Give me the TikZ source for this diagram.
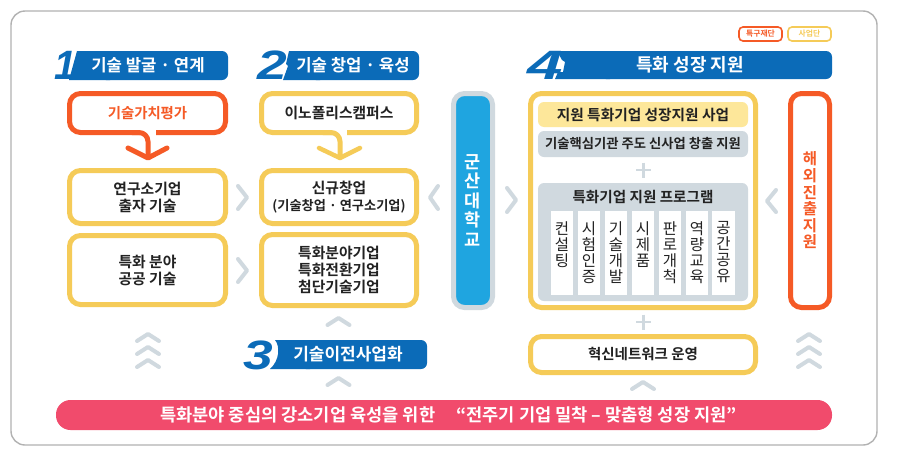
\documentclass[tikz,border=0pt]{standalone}
\usepackage{fontspec}
\setmainfont{Noto Sans CJK KR}[BoldFont={Noto Sans CJK KR Bold}]
\setsansfont{Liberation Sans}[BoldFont={Liberation Sans Bold},ItalicFont={Liberation Sans Italic},BoldItalicFont={Liberation Sans Bold Italic}]
\definecolor{cblue}{HTML}{0B6BB8}
\definecolor{cyel}{HTML}{F5CB58}
\definecolor{corg}{HTML}{F55A26}
\definecolor{cgray}{HTML}{D0D9DF}
\definecolor{ctxt}{HTML}{222222}
\definecolor{cred}{HTML}{F14B6C}
\definecolor{csky}{HTML}{1FA5E0}
\definecolor{cban}{HTML}{FDE79A}
\tikzset{
 x=1pt,y=-1pt,
 ybox/.style={draw=cyel,line width=5pt,rounded corners=11pt,fill=white},
 obox/.style={draw=corg,line width=5pt,rounded corners=11pt,fill=white},
 txt/.style={text=ctxt,font=\fontsize{14.8}{17}\selectfont\bfseries,align=center,inner sep=0pt},
 htxt/.style={text=white,font=\fontsize{16.7}{18}\selectfont\bfseries,inner sep=0pt},
 chev/.style={draw=cgray,line width=4pt,line cap=round,line join=round},
 num/.style={text=cblue,font=\fontsize{41}{41}\sffamily\bfseries\itshape,inner sep=0pt},
 coltxt/.style={text=ctxt,font=\fontsize{15.5}{16}\selectfont,align=center,inner sep=0pt},
 vtxt/.style={font=\fontsize{15.5}{16.6}\selectfont\bfseries,align=center,inner sep=0pt},
 leg/.style={font=\fontsize{7.8}{8}\selectfont\bfseries,inner sep=0pt},
 arrowline/.style={line width=5pt,line cap=round,line join=round,rounded corners=9pt},
 banner/.style={rounded corners=6pt,inner sep=0pt},
}
\newcommand{\upchev}[2]{\draw[chev] (#1-11,#2+9) -- (#1,#2+2) -- (#1+11,#2+9);}
\begin{document}
\begin{tikzpicture}
\useasboundingbox (0,0) rectangle (900,453);
\fill[white] (0,0) rectangle (900,453);
\draw[draw=black!30,line width=1.4pt,rounded corners=14pt] (11,11) rectangle (877,445);
% legend
\node[draw=corg,line width=1.6pt,rounded corners=4pt,minimum width=43pt,minimum height=14pt,inner sep=0pt,text=corg,leg] (lega) at (760.5,34) {특구재단};
\node[draw=cyel,line width=1.6pt,rounded corners=4pt,minimum width=43pt,minimum height=14pt,inner sep=0pt,text=cyel,leg] (legb) at (809.5,34) {사업단};
% header 1
\fill[cblue,rounded corners=6pt] (100,51) -- (228,51) -- (228,80) -- (100,80) -- cycle;
\fill[cblue] (77,51) -- (110,51) -- (110,80) -- (69,80) -- cycle;
\node[num] (n1) at (65.5,65.5) {\scalebox{0.95}[1]{1}};
\node[htxt] (h1) at (148,65.5) {기술 발굴 · 연계};
% header 2
\fill[cblue,rounded corners=6pt] (310,51) -- (419,51) -- (419,80) -- (310,80) -- cycle;
\fill[cblue] (289,51) -- (286,64) -- (288,66) -- (283,80) -- (320,80) -- (320,51) -- cycle;
\node[num] (n2) at (272,65.5) {\scalebox{1.3}[1]{2}};
\node[htxt] (h2) at (353,65.5) {기술 창업 · 육성};
% header 3
\fill[cblue,rounded corners=6pt] (300,340) -- (427,340) -- (427,369) -- (300,369) -- cycle;
\fill[cblue] (275,340) .. controls (280,346) and (280,360) .. (270,369) -- (310,369) -- (310,340) -- cycle;
\node[num] (n3) at (258,355) {\scalebox{1.3}[1]{3}};
\node[htxt,font=\fontsize{17}{18}\selectfont\bfseries] (h3) at (348,354.5) {기술이전사업화};
% header 4
\fill[cblue,rounded corners=6pt] (600,51) -- (832,51) -- (832,79) -- (600,79) -- cycle;
\fill[cblue] (557,51) -- (562,60) -- (565,62) -- (563,72) -- (558,72) -- (555,79) -- (610,79) -- (610,51) -- cycle;
\node[num] (n4) at (545,65) {\scalebox{1.55}[1]{4}};
\node[htxt,font=\fontsize{18}{18}\selectfont\bfseries] (h4) at (690,65) {특화 성장 지원};
% boxes col 1
\node[obox,minimum width=156pt,minimum height=39pt,inner sep=0pt,text=corg,font=\fontsize{14.4}{16}\selectfont\bfseries] (b1) at (147.5,113) {기술가치평가};
\node[ybox,minimum width=156pt,minimum height=53pt,inner sep=0pt,txt] (b2) at (147.5,197) {연구소기업\\출자 기술};
\node[ybox,minimum width=156pt,minimum height=69pt,inner sep=0pt,txt] (b3) at (147.5,270) {특화 분야\\공공 기술};
% col 2
\node[ybox,minimum width=155pt,minimum height=39pt,inner sep=0pt,txt] (c1) at (339,113) {이노폴리스캠퍼스};
\node[ybox,minimum width=155pt,minimum height=53pt,inner sep=0pt,txt] (c2) at (339,197) {신규창업\\{\fontsize{13.2}{17}\selectfont (기술창업 · 연구소기업)}};
\node[ybox,minimum width=155pt,minimum height=71pt,inner sep=0pt,txt] (c3) at (339,270) {특화분야기업\\특화전환기업\\첨단기술기업};
% arrows out of the top boxes
\fill[white] (140,128) rectangle (156,137);
\draw[corg,arrowline] (132,132.5) -- (148,132.5) -- (148,157);
\draw[corg,line width=5pt,line cap=round,line join=round] (128,148) -- (148,158) -- (167,148);
\fill[white] (332,128) rectangle (347,137);
\draw[cyel,arrowline] (323,132.5) -- (340,132.5) -- (340,157);
\draw[cyel,line width=4.5pt,line cap=round,line join=round] (319,148) -- (340,158) -- (360,148);
% chevrons
\draw[chev] (238,186) -- (247,197.5) -- (238,209);
\draw[chev] (238,259) -- (247,270.5) -- (238,282);
\draw[chev] (438,186) -- (430,197.5) -- (438,209);
\draw[chev] (507,188) -- (516,200) -- (507,212);
\draw[chev] (776,190) -- (767,201) -- (776,212);
% Gunsan
\node[draw=cgray,fill=csky,line width=5pt,rounded corners=11pt,minimum width=39pt,minimum height=214pt,inner sep=0pt,text=white,font=\fontsize{17.5}{19.5}\selectfont\bfseries,align=center] (g) at (473,200.5) {군\\산\\대\\학\\교};
% big panel
\node[ybox,minimum width=225pt,minimum height=214pt,inner sep=0pt] (p) at (643,200.5) {};
\node[fill=cban,banner,minimum width=210pt,minimum height=25pt,txt,font=\fontsize{14.7}{16}\selectfont\bfseries] (p1) at (643,114.5) {지원 특화기업 성장지원 사업};
\node[fill=cgray,banner,minimum width=210pt,minimum height=26pt,txt,font=\fontsize{13.3}{16}\selectfont\bfseries] (p2) at (643,144) {기술핵심기관 주도 신사업 창출 지원};
\draw[cgray,line width=2.6pt] (636,170) -- (651,170) (643.5,162.5) -- (643.5,177.5);
\fill[cgray,rounded corners=6pt] (538,183) rectangle (748,301);
\node[txt,font=\fontsize{14.6}{16}\selectfont\bfseries] (p3) at (643,197) {특화기업 지원 프로그램};
\foreach \nm/\cx/\tt in {k1/562/컨\\설\\팅,k2/589/시\\험\\인\\증,k3/616/기\\술\\개\\발,k4/643/시\\제\\품,k5/670/판\\로\\개\\척,k6/697/역\\량\\교\\육,k7/723.5/공\\간\\공\\유}{
  \fill[white] (\cx-11.3,211) rectangle (\cx+11.3,295);
  \node[coltxt,anchor=north] (\nm) at (\cx,221) {\tt};
}
\draw[cgray,line width=2.6pt] (636,322) -- (651,322) (643.5,314.5) -- (643.5,329.5);
\node[ybox,minimum width=225pt,minimum height=36pt,inner sep=0pt,txt,font=\fontsize{14.5}{16}\selectfont\bfseries] (net) at (643,354.5) {혁신네트워크 운영};
% overseas
\node[obox,minimum width=39pt,minimum height=214pt,inner sep=0pt,text=corg,vtxt] (o) at (810,200.5) {해\\외\\진\\출\\지\\원};
% up chevrons
\upchev{148}{332}\upchev{148}{345}\upchev{148}{358}
\upchev{809}{332}\upchev{809}{345}\upchev{809}{358}
\upchev{338.5}{316}\upchev{338.5}{376}\upchev{643}{380}
% red bar
\node[fill=cred,rounded corners=14.5pt,minimum width=776pt,minimum height=30pt,inner sep=0pt] (r) at (444,415) {};
\node[htxt,font=\fontsize{17.6}{18}\selectfont\bfseries] (rt) at (448.5,415) {특화분야 중심의 강소기업 육성을 위한\hspace{1.2em}“전주기 기업 밀착 – 맞춤형 성장 지원”};
\end{tikzpicture}
\end{document}
